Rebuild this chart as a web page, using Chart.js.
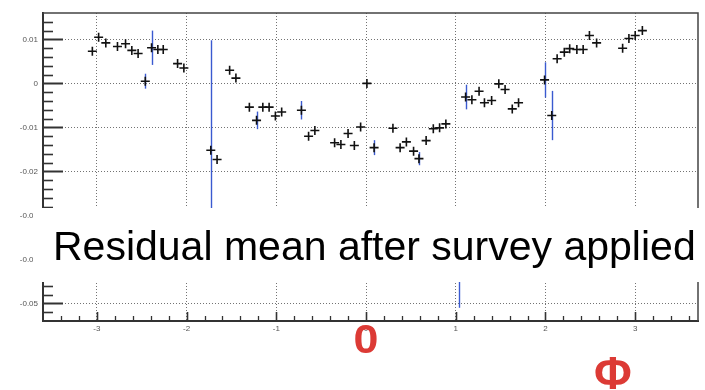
<!DOCTYPE html>
<html>
<head>
<meta charset="utf-8">
<script src="https://cdn.jsdelivr.net/npm/chart.js@4.4.1/dist/chart.umd.min.js"></script>
<style>
  html, body { margin: 0; padding: 0; background: #fff; }
  #wrap { width: 705px; height: 390px; }
</style>
</head>
<body>
<div id="wrap"><canvas id="c" width="705" height="390"></canvas></div>
<script>
// ═══════════════════════════════════════════════════════
//  DATI: residual mean vs phi
// ═══════════════════════════════════════════════════════
const phi = [
  -3.05, -2.98, -2.90, -2.77, -2.68, -2.61, -2.54, -2.46, -2.39, -2.32, -2.26, -2.10, -2.03,
  -1.73, -1.66, -1.52, -1.45, -1.30, -1.22, -1.15, -1.08, -1.01, -0.94,
  -0.72, -0.64, -0.57, -0.35, -0.28, -0.20, -0.13, -0.06, 0.01, 0.09,
  0.30, 0.38, 0.45, 0.53, 0.59, 0.67, 0.75, 0.82, 0.89,
  1.04, 1.11, 1.18, 1.26, 1.32, 1.40, 1.48, 1.55, 1.63, 1.70,
  1.99, 2.07, 2.13, 2.21, 2.27, 2.35, 2.42, 2.49, 2.57, 2.64,
  2.86, 2.93, 3.00, 3.08
];
const mean = [
  0.0073, 0.0105, 0.0092, 0.0084, 0.0090, 0.0075, 0.0068, 0.0005, 0.0081, 0.0077, 0.0077, 0.0045, 0.0035,
  -0.0152, -0.0173, 0.0030, 0.0012, -0.0054, -0.0084, -0.0054, -0.0054, -0.0074, -0.0065,
  -0.0061, -0.0120, -0.0107, -0.0135, -0.0139, -0.0114, -0.0141, -0.0099, 0.0000, -0.0146,
  -0.0102, -0.0146, -0.0133, -0.0154, -0.0171, -0.0130, -0.0103, -0.0101, -0.0092,
  -0.0400, -0.0031, -0.0037, -0.0018, -0.0044, -0.0039, -0.0001, -0.0014, -0.0058, -0.0044,
  0.0008, -0.0073, 0.0056, 0.0071, 0.0079, 0.0077, 0.0077, 0.0109, 0.0092, -0.0295,
  0.0080, 0.0102, 0.0109, 0.0120
];
const err = [
  0, 0, 0, 0, 0, 0, 0, 0.0017, 0.0039, 0, 0, 0, 0,
  0.0250, 0, 0, 0, 0, 0.0020, 0, 0, 0, 0,
  0.0021, 0, 0, 0, 0, 0, 0, 0, 0, 0.0017,
  0, 0, 0, 0, 0.0015, 0, 0, 0, 0,
  0.0110, 0.0028, 0, 0, 0, 0, 0, 0, 0, 0,
  0.0040, 0.0056, 0, 0, 0, 0, 0, 0, 0, 0,
  0, 0, 0, 0
];

const xTicks = [-3, -2, -1, 0, 1, 2, 3];
const xTickLabels = ['-3', '-2', '-1', '0', '1', '2', '3'];
const yTicks = [-0.05, -0.04, -0.03, -0.02, -0.01, 0, 0.01];
const yTickLabels = ['-0.05', '-0.04', '-0.03', '-0.02', '-0.01', '0', '0.01'];

const X_MIN = -3.6, X_MAX = 3.7;
const Y_MIN = -0.054, Y_MAX = 0.016;

const FONT = '"Liberation Sans", Arial, sans-serif';

// barre d'errore blu, sotto i marker
const errorBars = {
  id: 'errorBars',
  beforeDatasetsDraw(chart) {
    const { ctx, chartArea: a, scales: { x, y } } = chart;
    ctx.save();
    ctx.beginPath();
    ctx.rect(a.left, a.top, a.right - a.left, a.bottom - a.top);
    ctx.clip();
    ctx.strokeStyle = '#3a5ad0';
    ctx.lineWidth = 1.4;
    phi.forEach((p, i) => {
      if (!err[i]) return;
      const px = Math.round(x.getPixelForValue(p)) + 0.5;
      ctx.beginPath();
      ctx.moveTo(px, y.getPixelForValue(mean[i] + err[i]));
      ctx.lineTo(px, y.getPixelForValue(mean[i] - err[i]));
      ctx.stroke();
    });
    ctx.restore();
  }
};

// cornice e tacche interne stile ROOT
const rootFrame = {
  id: 'rootFrame',
  afterDraw(chart) {
    const { ctx, chartArea: a, scales: { x, y } } = chart;
    ctx.save();
    ctx.strokeStyle = '#444';
    ctx.lineWidth = 1.5;
    ctx.beginPath();
    ctx.moveTo(a.left, a.top);
    ctx.lineTo(a.right, a.top);
    ctx.lineTo(a.right, a.bottom);
    ctx.stroke();

    ctx.strokeStyle = '#333';
    for (let k = -26; k <= 7; k++) {
      const major = k % 5 === 0;
      const py = Math.round(y.getPixelForValue(k * 0.002)) + 0.5;
      ctx.lineWidth = major ? 2 : 1.6;
      ctx.beginPath();
      ctx.moveTo(a.left, py);
      ctx.lineTo(a.left + (major ? 20 : 10), py);
      ctx.stroke();
    }
    for (let k = -17; k <= 18; k++) {
      const major = k % 5 === 0;
      const px = Math.round(x.getPixelForValue(k * 0.2)) + 0.5;
      ctx.lineWidth = major ? 1.6 : 1.3;
      ctx.beginPath();
      ctx.moveTo(px, a.bottom);
      ctx.lineTo(px, a.bottom - (major ? 9 : 5));
      ctx.stroke();
    }
    ctx.restore();
  }
};

// riquadro bianco con didascalia e annotazioni rosse
const overlay = {
  id: 'overlay',
  afterDraw(chart) {
    const { ctx, scales: { x } } = chart;
    ctx.save();
    ctx.fillStyle = '#fff';
    ctx.fillRect(33, 208, 672, 74);
    ctx.fillStyle = '#000';
    ctx.font = '41px ' + FONT;
    ctx.textAlign = 'left';
    ctx.textBaseline = 'alphabetic';
    ctx.fillText('Residual mean after survey applied', 53, 260);

    ctx.fillStyle = '#dc3a35';
    ctx.textAlign = 'center';
    ctx.font = 'bold 40px ' + FONT;
    ctx.save();
    ctx.translate(x.getPixelForValue(0), 353);
    ctx.scale(1.12, 1);
    ctx.fillText('0', 0, 0);
    ctx.restore();
    ctx.font = 'bold 46px ' + FONT;
    ctx.fillText('\u03A6', 613, 389);
    ctx.restore();
  }
};

new Chart(document.getElementById('c'), {
  type: 'scatter',
  data: {
    datasets: [{
      data: phi.map((p, i) => ({ x: p, y: mean[i] })),
      pointStyle: 'cross',
      pointRadius: 4.5,
      pointBorderColor: '#111',
      pointBorderWidth: 1.6,
      pointBackgroundColor: '#111'
    }]
  },
  options: {
    responsive: false,
    devicePixelRatio: 1,
    animation: false,
    layout: { padding: { top: 13, right: 7, left: 0, bottom: 0 } },
    plugins: { legend: { display: false }, tooltip: { enabled: false } },
    scales: {
      x: {
        type: 'linear', min: X_MIN, max: X_MAX,
        afterBuildTicks: s => { s.ticks = xTicks.map(v => ({ value: v })); },
        afterFit: s => { s.height = 69; },
        grid: { color: 'rgba(0,0,0,0.55)', lineWidth: 1, drawTicks: false },
        border: { color: '#333', width: 2, dash: [1, 2] },
        ticks: {
          padding: 3, color: '#555', font: { family: FONT, size: 8 },
          maxRotation: 0, autoSkip: false,
          callback: (v, i) => xTickLabels[i]
        }
      },
      y: {
        type: 'linear', min: Y_MIN, max: Y_MAX,
        afterBuildTicks: s => { s.ticks = yTicks.map(v => ({ value: v })); },
        afterFit: s => { s.width = 43; },
        grid: { color: 'rgba(0,0,0,0.55)', lineWidth: 1, drawTicks: false },
        border: { color: '#333', width: 2, dash: [1, 2] },
        ticks: {
          padding: 5, color: '#555', font: { family: FONT, size: 8 },
          autoSkip: false,
          callback: (v, i) => yTickLabels[i]
        }
      }
    }
  },
  plugins: [errorBars, rootFrame, overlay]
});
</script>
</body>
</html>
